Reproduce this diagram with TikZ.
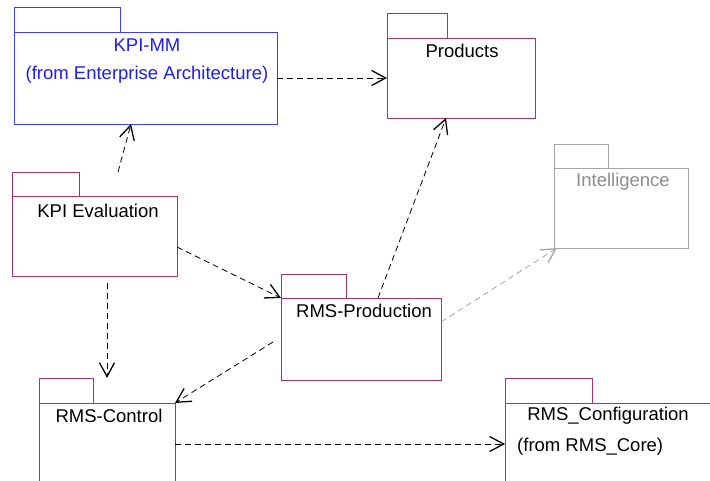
\documentclass[tikz,border=0pt]{standalone}
\usepackage{fontspec}
\setmainfont{Liberation Sans}
\usetikzlibrary{arrows.meta,calc}
\definecolor{pk}{RGB}{176,48,96}
\definecolor{bl}{RGB}{60,60,255}
\definecolor{blt}{RGB}{30,30,240}
\definecolor{gr}{RGB}{165,165,165}
\definecolor{grt}{RGB}{140,140,140}
\begin{document}
\begin{tikzpicture}[x=1pt,y=-1pt,
  box/.style={draw, line width=0.8pt, inner sep=0pt, outer sep=0pt, anchor=north west},
  lbl/.style={inner sep=0pt, font=\fontsize{18.5}{22}\selectfont},
  dep/.style={draw, line width=0.8pt, dash pattern=on 6pt off 4pt, -{Straight Barb[length=14pt,width=15pt,line width=1.3pt]}}]
\useasboundingbox (0,0) rectangle (710,481);
% KPI-MM
\node[box, draw=bl, minimum width=106pt, minimum height=25pt] (kpimmtab) at (14,7) {};
\node[box, draw=bl, minimum width=263pt, minimum height=92pt] (kpimm) at (14,32) {};
\node[lbl, text=blt] (kpimmt) at (147,45) {KPI-MM};
\node[lbl, text=blt] (kpimmf) at (147,75) {(from Enterprise Architecture)};
% Products
\node[box, draw=pk, minimum width=60pt, minimum height=25pt] (prodtab) at (387,13) {};
\node[box, draw=pk, minimum width=148pt, minimum height=80pt] (products) at (387,38) {};
\node[lbl] (prodt) at (462,51) {Products};
% Intelligence
\node[box, draw=gr, minimum width=54pt, minimum height=24pt] (inteltab) at (554,144) {};
\node[box, draw=gr, minimum width=134pt, minimum height=80pt] (intel) at (554,168) {};
\node[lbl, text=grt] (intelt) at (623,182) {Intelligence};
% KPI Evaluation
\node[box, draw=pk, minimum width=67pt, minimum height=24pt] (kpievaltab) at (12,172) {};
\node[box, draw=pk, minimum width=165pt, minimum height=80pt] (kpieval) at (12,196) {};
\node[lbl] (kpievalt) at (98,211) {KPI Evaluation};
% RMS-Production
\node[box, draw=pk, minimum width=65pt, minimum height=24pt] (rmsprodtab) at (281,274) {};
\node[box, draw=pk, minimum width=160pt, minimum height=82pt] (rmsprod) at (281,298) {};
\node[lbl] (rmsprodt) at (364,311) {RMS-Production};
% RMS-Control
\node[box, draw=pk, minimum width=54pt, minimum height=25pt] (rmsctrltab) at (39,378) {};
\node[box, draw=pk, minimum width=136pt, minimum height=100pt] (rmsctrl) at (39,403) {};
\node[lbl] (rmsctrlt) at (109,416) {RMS-Control};
% RMS_Configuration
\node[box, draw=pk, minimum width=87pt, minimum height=25pt] (rmsconftab) at (505,378) {};
\node[box, draw=pk, minimum width=210pt, minimum height=100pt] (rmsconf) at (505,403) {};
\node[lbl] (rmsconft) at (608,416) {RMS\_Configuration};
\node[lbl, anchor=west] (rmsconff) at (517,447) {(from RMS\_Core)};
% dependencies
\draw[dep] (kpimm.east) -- (products.west);
\draw[dep] ($(kpieval.north west)+(106,-24)$) -- ($(kpimm.south west)+(117,0)$);
\draw[dep] ($(rmsprod.north west)+(97,0)$) -- ($(products.south west)+(59,0)$);
\draw[dep, gr] ($(rmsprod.north east)+(0,24)$) -- ($(intel.south west)+(3,0)$);
\draw[dep] ($(kpieval.south east)+(0,-29)$) -- (rmsprod.north west);
\draw[dep] ($(kpieval.south west)+(95,7)$) -- ($(rmsctrl.north west)+(68,-25)$);
\draw[dep] ($(rmsprod.west)+(-8,3)$) -- (rmsctrl.north east);
\draw[dep] ($(rmsctrl.north east)+(0,41)$) -- ($(rmsconf.north west)+(0,41)$);
\end{tikzpicture}
\end{document}
